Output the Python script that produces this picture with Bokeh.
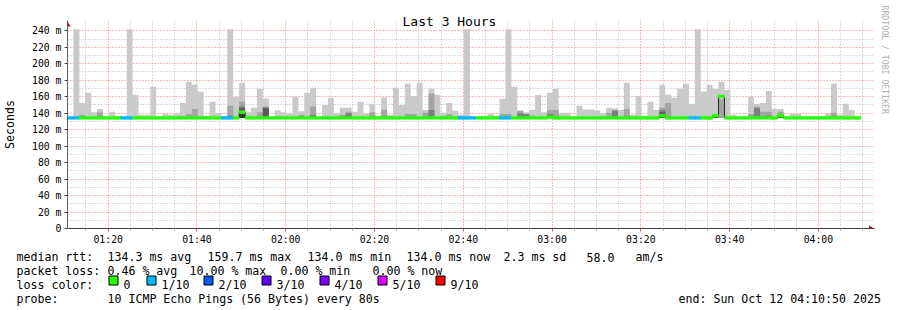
import math
from datetime import datetime, timedelta
from bokeh.plotting import figure
from bokeh.layouts import column
from bokeh.models import (ColumnDataSource, FixedTicker, PolyAnnotation, Range1d, Title)
from bokeh.core.properties import value
from bokeh.embed import file_html
from bokeh.resources import INLINE

# ---------------- data ----------------
title_text = "Last 3 Hours"
end_stamp = "2025-10-12 04:10:50"
window_hours = 3
step_seconds = 80
smoke_floor = 134.0

# highest ping per 80 s step (lightest smoke)
smoke_max = [
    135.5, 242, 152.5, 164.7, 141, 145, 137, 141.6, 136, 135.5,
    242, 162, 138, 138, 172, 136, 139, 138, 139.6, 152.5,
    178, 174.4, 166, 137, 153.8, 140, 136, 242, 160, 177,
    141, 146.5, 169.6, 157.8, 136, 143.6, 141, 139.6, 160, 142.4,
    164.7, 170.8, 136, 150, 158.6, 140, 146.5, 146.5, 141.6, 153.8,
    139, 151.3, 137, 159, 138, 170.8, 150, 175.6, 161, 176.8,
    144, 169.6, 162.3, 140.4, 152.5, 142.8, 138, 242, 136, 136,
    137, 139, 137, 157.4, 242, 172, 142.8, 141, 144, 162,
    141, 164.7, 169.6, 140.4, 140.4, 136, 149, 144.5, 144.5, 143.6,
    140, 146.5, 146, 144, 176.8, 138, 161, 137, 153.8, 144,
    174.4, 162.3, 158.6, 169.6, 175.6, 151.3, 242, 166, 174.4, 169.6,
    178, 168, 138, 136, 137, 160, 151.3, 152.5, 167, 145,
    145, 136, 139, 139, 136, 136, 136, 136, 139, 175.6,
    138, 151.3, 144, 136,
]
# 9th ping
smoke_p9 = [
    134, 134, 138, 134, 134, 141, 134, 134, 134, 134,
    134, 134, 134, 134, 134, 134, 134, 134, 134, 134,
    139, 145, 134, 134, 134, 134, 134, 149, 134, 154,
    134, 134, 141, 148, 134, 134, 134, 134, 134, 138,
    134, 148, 134, 134, 134, 134, 138, 141.6, 134, 134,
    134, 141, 134, 144, 134, 134, 134, 139, 139, 134,
    140.4, 163.5, 134, 134, 139, 134, 134, 134, 134, 134,
    134, 134, 134, 139, 139, 134, 142.8, 139, 137, 134,
    134, 144, 144, 134, 134, 134, 134, 134, 134, 134,
    134, 140.4, 144, 134, 145, 134, 134, 134, 134, 134,
    146.5, 152.5, 134, 134, 134, 134, 134, 134, 134, 134,
    157, 134, 134, 134, 134, 139, 147.7, 141.6, 141.6, 134,
    141.6, 134, 134, 134, 134, 134, 134, 134, 134, 140.4,
    134, 134, 134, 134,
]
# 8th ping
smoke_p8 = [
    134, 134, 134, 134, 134, 134, 134, 134, 134, 134,
    134, 134, 134, 134, 134, 134, 134, 134, 134, 134,
    134, 134, 134, 134, 134, 134, 134, 137, 134, 148,
    134, 134, 134, 147, 134, 134, 134, 134, 134, 134,
    134, 138, 134, 134, 134, 134, 134, 140, 134, 134,
    134, 134, 134, 134, 134, 134, 134, 134, 134, 134,
    134, 144, 134, 134, 134, 134, 134, 134, 134, 134,
    134, 134, 134, 134, 134, 134, 140, 139, 134, 134,
    134, 139, 134, 134, 134, 134, 134, 134, 134, 134,
    134, 134, 143, 134, 134, 134, 134, 134, 134, 134,
    144, 134, 134, 134, 134, 134, 134, 134, 134, 134,
    134, 134, 134, 134, 134, 134, 146, 134, 137, 134,
    134, 134, 134, 134, 134, 134, 134, 134, 134, 134,
    134, 134, 134, 134,
]
# 7th ping
smoke_p7 = [
    134, 134, 134, 134, 134, 134, 134, 134, 134, 134,
    134, 134, 134, 134, 134, 134, 134, 134, 134, 134,
    134, 134, 134, 134, 134, 134, 134, 134, 134, 146,
    134, 134, 134, 146, 134, 134, 134, 134, 134, 134,
    134, 134, 134, 134, 134, 134, 134, 134, 134, 134,
    134, 134, 134, 134, 134, 134, 134, 134, 134, 134,
    134, 134, 134, 134, 134, 134, 134, 134, 134, 134,
    134, 134, 134, 134, 134, 134, 134, 134, 134, 134,
    134, 137, 134, 134, 134, 134, 134, 134, 134, 134,
    134, 134, 134, 134, 134, 134, 134, 134, 134, 134,
    141, 134, 134, 134, 134, 134, 134, 134, 134, 134,
    134, 134, 134, 134, 134, 134, 134, 134, 134, 134,
    134, 134, 134, 134, 134, 134, 134, 134, 134, 134,
    134, 134, 134, 134,
]
# 6th ping (darkest smoke)
smoke_p6 = [
    134, 134, 134, 134, 134, 134, 134, 134, 134, 134,
    134, 134, 134, 134, 134, 134, 134, 134, 134, 134,
    134, 134, 134, 134, 134, 134, 134, 134, 134, 141,
    134, 134, 134, 134, 134, 134, 134, 134, 134, 134,
    134, 134, 134, 134, 134, 134, 134, 134, 134, 134,
    134, 134, 134, 134, 134, 134, 134, 134, 134, 134,
    134, 134, 134, 134, 134, 134, 134, 134, 134, 134,
    134, 134, 134, 134, 134, 134, 134, 134, 134, 134,
    134, 134, 134, 134, 134, 134, 134, 134, 134, 134,
    134, 134, 134, 134, 134, 134, 134, 134, 134, 134,
    136, 134, 134, 134, 134, 134, 134, 134, 134, 136,
    134, 134, 134, 134, 134, 134, 134, 134, 134, 134,
    136, 134, 134, 134, 134, 134, 134, 134, 134, 134,
    134, 134, 134, 134,
]
median_rtt = [
    134.3, 134.3, 134.3, 134.3, 134.3, 134.3, 134.3, 134.3, 134.3, 134.3,
    134.3, 134.3, 134.3, 134.3, 134.3, 134.3, 134.3, 134.3, 134.3, 134.3,
    134.3, 134.3, 134.3, 134.3, 134.3, 134.3, 134.3, 134.3, 134.3, 141,
    134.3, 134.3, 134.3, 134.3, 134.3, 134.3, 134.3, 134.3, 134.3, 134.3,
    134.3, 134.3, 134.3, 134.3, 134.3, 134.3, 134.3, 134.3, 134.3, 134.3,
    134.3, 134.3, 134.3, 134.3, 134.3, 134.3, 134.3, 134.3, 134.3, 134.3,
    134.3, 134.3, 134.3, 134.3, 134.3, 134.3, 134.3, 134.3, 134.3, 134.3,
    134.3, 134.3, 134.3, 134.3, 134.3, 134.3, 134.3, 134.3, 134.3, 134.3,
    134.3, 135, 134.3, 134.3, 134.3, 134.3, 134.3, 134.3, 134.3, 134.3,
    134.3, 134.3, 134.3, 134.3, 134.3, 134.3, 134.3, 134.3, 134.3, 134.3,
    137, 134.3, 134.3, 134.3, 134.3, 134.3, 134.3, 134.3, 134.3, 137,
    160.4, 134.3, 134.3, 134.3, 134.3, 134.3, 134.3, 134.3, 134.3, 134.3,
    137, 134.3, 134.3, 134.3, 134.3, 134.3, 134.3, 134.3, 134.3, 134.3,
    134.3, 134.3, 134.3, 134.3,
]
# lost pings out of 10 per step
loss_count = [
    1, 1, 0, 0, 0, 0, 0, 0, 0, 1,
    1, 0, 0, 0, 0, 0, 0, 0, 0, 0,
    0, 0, 0, 0, 0, 0, 1, 1, 0, 0,
    0, 0, 0, 0, 0, 0, 0, 0, 0, 0,
    0, 0, 0, 0, 0, 0, 0, 0, 0, 0,
    0, 0, 0, 0, 0, 0, 0, 0, 0, 0,
    0, 0, 0, 0, 0, 0, 1, 1, 1, 0,
    0, 0, 0, 1, 1, 0, 0, 0, 0, 0,
    0, 0, 0, 0, 0, 0, 0, 0, 0, 0,
    0, 0, 0, 0, 0, 0, 0, 0, 0, 0,
    0, 0, 0, 0, 0, 1, 1, 0, 0, 0,
    0, 0, 0, 0, 0, 0, 0, 0, 0, 0,
    0, 0, 0, 0, 0, 0, 0, 0, 0, 0,
    0, 0, 0, 0,
]

loss_levels = [0, 1, 2, 3, 4, 5, 9]
loss_labels = ["0", "1/10", "2/10", "3/10", "4/10", "5/10", "9/10"]
loss_colors = ["#26ff00", "#00b8ff", "#0059ff", "#5e00ff", "#7e00ff", "#dd00ff", "#ff0000"]

x_tick_labels = ["01:20", "01:40", "02:00", "02:20", "02:40", "03:00", "03:20", "03:40", "04:00"]
y_tick_values = [0, 20, 40, 60, 80, 100, 120, 140, 160, 180, 200, 220, 240]
y_tick_labels = ["0", "20 m", "40 m", "60 m", "80 m", "100 m", "120 m", "140 m",
                 "160 m", "180 m", "200 m", "220 m", "240 m"]

rtt_head = "median rtt:"
rtt_stats = ["134.3 ms avg", "159.7 ms max", "134.0 ms min", "134.0 ms now", "2.3 ms sd", "58.0", "am/s"]
loss_head = "packet loss:"
loss_stats = ["0.46 % avg", "10.00 % max", "0.00 % min", "0.00 % now"]
color_head = "loss color:"
probe_head = "probe:"
probe_text = "10 ICMP Echo Pings (56 Bytes) every 80s"
end_text = "end: Sun Oct 12 04:10:50 2025"
y_title = "Seconds"
credit = "RRDTOOL / TOBI OETIKER"

# ---------------- derived ----------------
EPOCH = datetime(1970, 1, 1)
def ms(dt):
    return (dt - EPOCH).total_seconds() * 1000.0

t_end = datetime.strptime(end_stamp, "%Y-%m-%d %H:%M:%S")
t_start = t_end - timedelta(hours=window_hours)
n = len(smoke_max)
lefts = [ms(t_start + timedelta(seconds=step_seconds * k)) for k in range(n)]
rights = [ms(t_start + timedelta(seconds=step_seconds * (k + 1))) for k in range(n)]
xs_step = lefts + [rights[-1]]

def ext(a):
    return list(a) + [a[-1]]

day = t_end.date()
x_major = []
for lab in x_tick_labels:
    hh, mm = lab.split(":")
    x_major.append(int(ms(datetime(day.year, day.month, day.day, int(hh), int(mm)))))
x_minor = []
t = datetime(day.year, day.month, day.day, t_start.hour, 0)
while t <= t_end:
    if t >= t_start and t.minute % 20 != 0:
        x_minor.append(int(ms(t)))
    t += timedelta(minutes=5)
y_minor = [v + 10 for v in y_tick_values[:-1]]

# ---------------- layout constants (pixels) ----------------
W, H = 897, 310
MAIN_H = 249                     # main figure height, legend strip below
AX_L, AX_R = 66, 866             # time axis: start / end pixel
AX_B = 228                       # value 0 pixel row
PX_PER_UNIT = 197.7 / 240.0      # vertical scale
FR_L, FR_R, FR_T, FR_B = 66, 874, 20, 228   # frame incl. arrow room
MS_PER_PX = (ms(t_end) - ms(t_start)) / (AX_R - AX_L)

x_lo = ms(t_start) - (AX_L - FR_L) * MS_PER_PX
x_hi = ms(t_end) + (FR_R - AX_R) * MS_PER_PX
y_lo = 0.0
y_hi = (AX_B - FR_T) / PX_PER_UNIT

MONO = "DejaVu Sans Mono"

p = figure(width=W, height=MAIN_H, output_backend="svg", toolbar_location=None,
           x_range=Range1d(x_lo, x_hi), y_range=Range1d(y_lo, y_hi),
           min_border_left=FR_L, min_border_right=W - FR_R, min_border_top=FR_T,
           min_border_bottom=MAIN_H - FR_B)
p.outline_line_color = None
p.background_fill_color = "white"
p.border_fill_color = "white"

# title
p.title.text = title_text
p.title.align = "left"
p.title.offset = 401 - FR_L
p.title.vertical_align = "bottom"
p.title.standoff = -16
p.title.text_font = MONO
p.title.text_font_size = "13px"
p.title.text_font_style = "normal"
p.title.text_color = "black"

# grid
for g in (p.xgrid[0], p.ygrid[0]):
    g.grid_line_color = "#f07a7a"
    g.grid_line_dash = "1 2"
    g.grid_line_width = 1
    g.minor_grid_line_color = "#b8b8b8"
    g.minor_grid_line_dash = "1 2"
    g.minor_grid_line_width = 1

xa = p.xaxis[0]
xa.ticker = FixedTicker(ticks=x_major, minor_ticks=x_minor)
xa.major_label_overrides = {t: lab for t, lab in zip(x_major, x_tick_labels)}
xa.major_label_text_font = MONO
xa.major_label_text_font_size = "9.8px"
xa.major_label_text_color = "black"
xa.major_tick_in = 0
xa.major_tick_out = 3
xa.minor_tick_in = 0
xa.minor_tick_out = 2
xa.major_tick_line_color = "#e05a5a"
xa.minor_tick_line_color = "#a8a8a8"
xa.axis_line_color = "#404040"
xa.major_label_standoff = 2

ya = p.yaxis[0]
ya.ticker = FixedTicker(ticks=y_tick_values, minor_ticks=y_minor)
ya.major_label_overrides = {v: lab for v, lab in zip(y_tick_values, y_tick_labels)}
ya.major_label_text_font = MONO
ya.major_label_text_font_size = "9.8px"
ya.major_label_text_color = "black"
ya.major_tick_in = 0
ya.major_tick_out = 3
ya.minor_tick_in = 0
ya.minor_tick_out = 0
ya.major_tick_line_color = "#404040"
ya.axis_line_color = "#606060"
ya.major_label_standoff = 3
ya.axis_label = y_title
ya.axis_label_text_font = MONO
ya.axis_label_text_font_size = "11.6px"
ya.axis_label_text_font_style = "normal"
ya.axis_label_text_color = "black"
ya.axis_label_standoff = 12

# credit on the right
p.add_layout(Title(text=credit, align="left", offset=5 - FR_T, vertical_align="bottom",
                   standoff=10, text_font=MONO, text_font_size="8.2px",
                   text_font_style="normal", text_color="#b0b0b0"), "right")

# smoke layers
floor = [smoke_floor] * (n + 1)
for vals, col in ((smoke_max, "#cacaca"), (smoke_p9, "#a4a4a4"), (smoke_p8, "#7e7e7e"),
                  (smoke_p7, "#585858"), (smoke_p6, "#323232")):
    p.varea_step(x=xs_step, y1=floor, y2=ext(vals), step_mode="after",
                 fill_color=col, fill_alpha=1.0)

# median step outline
p.step(x=xs_step, y=ext(median_rtt), mode="after", line_color="#202020", line_width=1)

# median band coloured by loss
col_by_level = dict(zip(loss_levels, loss_colors))
half = 1.8
band = ColumnDataSource(dict(
    left=lefts, right=rights,
    bottom=[m - half for m in median_rtt], top=[m + half for m in median_rtt],
    color=[col_by_level[c] for c in loss_count]))
p.quad(left="left", right="right", bottom="bottom", top="top", source=band,
       fill_color="color", line_color="color", line_width=0.5)

# axis arrows (drawn in data space at the axis ends)
arrow_col = "#8e2222"
yu = 1.0 / PX_PER_UNIT
p.add_layout(PolyAnnotation(
    xs=[ms(t_start) - 3 * MS_PER_PX, ms(t_start) + 3 * MS_PER_PX, ms(t_start)],
    ys=[y_hi - 6 * yu, y_hi - 6 * yu, y_hi - 0.5 * yu],
    fill_color=arrow_col, fill_alpha=1.0, line_color=None))
p.add_layout(PolyAnnotation(
    xs=[x_hi - 5.5 * MS_PER_PX, x_hi - 5.5 * MS_PER_PX, x_hi - 0.5 * MS_PER_PX],
    ys=[3.0 * yu, -3.0 * yu, 0],
    fill_color=arrow_col, fill_alpha=1.0, line_color=None))

# ---------------- legend strip ----------------
LH = H - MAIN_H
q = figure(width=W, height=LH, output_backend="svg", toolbar_location=None,
           x_range=Range1d(0, W), y_range=Range1d(LH, 0),
           x_axis_location=None, y_axis_location=None,
           min_border=0, min_border_left=0, min_border_right=0,
           min_border_top=0, min_border_bottom=0)
q.outline_line_color = None
q.grid.visible = False
q.background_fill_color = "white"
q.border_fill_color = "white"
for fig in (p, q):
    try:
        fig.frame_align = False
    except Exception:
        pass

SHIFT = -2
row_y = [258.5 - MAIN_H + SHIFT, 272.5 - MAIN_H + SHIFT,
         286.3 - MAIN_H + SHIFT, 300.2 - MAIN_H + SHIFT]
tx, ty, tt = [], [], []
def add(text, px, py):
    tx.append(px); ty.append(py); tt.append(text)

add(rtt_head, 16, row_y[0])
for txt, px in zip(rtt_stats, [107, 207, 307, 406, 503, 586, 635]):
    add(txt, px, row_y[0])
add(loss_head, 16, row_y[1])
for txt, px in zip(loss_stats, [107, 189, 280, 372]):
    add(txt, px, row_y[1])
add(color_head, 16, row_y[2])
sq_x = [108, 146, 203, 261, 319, 377, 435]
for lab, sx in zip(loss_labels, sq_x):
    add(lab, sx + 15, row_y[2])
add(probe_head, 16, row_y[3])
add(probe_text, 107, row_y[3])
add(end_text, 678, row_y[3])

q.text(x=tx, y=ty, text=tt, text_font=value(MONO), text_font_size=value("11.6px"),
       text_color="black", text_align="left", text_baseline="alphabetic")
q.quad(left=[s + 0.5 for s in sq_x], right=[s + 9.5 for s in sq_x],
       top=[277.5 - MAIN_H + SHIFT] * len(sq_x), bottom=[286.5 - MAIN_H + SHIFT] * len(sq_x),
       fill_color=loss_colors, line_color="black", line_width=1)

layout = column(p, q, spacing=0)
open("out.html", "w").write(file_html(layout, INLINE))
